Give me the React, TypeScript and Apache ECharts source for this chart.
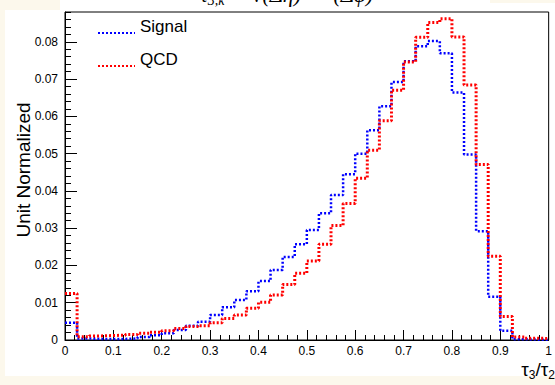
import React, { useEffect, useRef } from "react";
import * as echarts from "echarts";

// Histogram: 40 bins of width 0.025 from 0 to 1
const BIN_WIDTH = 0.025;
const signalValues = [
  0.0046, 0.0004, 0.0003, 0.0003, 0.0003, 0.0004, 0.0008, 0.0013, 0.0018, 0.0027,
  0.0038, 0.0049, 0.0067, 0.0088, 0.0107, 0.0131, 0.0158, 0.0188, 0.0223, 0.0257,
  0.0295, 0.034, 0.0389, 0.0445, 0.05, 0.0563, 0.0627, 0.0692, 0.0748, 0.0788,
  0.0802, 0.0769, 0.0664, 0.0498, 0.0292, 0.0116, 0.0025, 0.0002, 0.0001, 0.0001,
];
const qcdValues = [
  0.0125, 0.0009, 0.0011, 0.0012, 0.0013, 0.0015, 0.0018, 0.0021, 0.0025, 0.0031,
  0.0036, 0.0038, 0.0046, 0.0058, 0.0067, 0.0085, 0.0101, 0.0121, 0.0149, 0.0179,
  0.0212, 0.0257, 0.0307, 0.0366, 0.0434, 0.0509, 0.0588, 0.067, 0.0746, 0.0812,
  0.0852, 0.0862, 0.0813, 0.0684, 0.0471, 0.0225, 0.0063, 0.0008, 0.0005, 0.0004,
];
const seriesNames = ["Signal", "QCD"];
const X_MIN = 0;
const X_MAX = 1;
const Y_MIN = 0;
const Y_MAX = 0.088;

const FONT = "'Liberation Sans', Arial, Helvetica, sans-serif";

function stepData(values: number[]) {
  const pts: [number, number][] = values.map((v, i) => [+(i * BIN_WIDTH).toFixed(4), v]);
  pts.push([+(values.length * BIN_WIDTH).toFixed(4), values[values.length - 1]]);
  return pts;
}

export default function App() {
  const ref = useRef<HTMLDivElement>(null);
  useEffect(() => {
    if (!ref.current) return;
    const chart = echarts.init(ref.current, undefined, { renderer: "svg" });
    const fmt = (v: number) => String(+v.toFixed(3));
    const legendCommon = {
      left: 97,
      padding: 0,
      itemWidth: 37,
      itemHeight: 14,
      itemStyle: { opacity: 0 },
      formatter: "{a|{name}}",
      textStyle: {
        rich: {
          a: {
            fontSize: 17,
            fontFamily: FONT,
            color: "#000",
            lineHeight: 17,
            padding: [0, 0, 14, 0],
          },
        },
      },
    };
    chart.setOption({
      animation: false,
      backgroundColor: "#fcf8ec",
      grid: {
        left: 65,
        right: 1,
        top: 12,
        bottom: 45,
        show: true,
        borderColor: "#000",
        borderWidth: 1,
        backgroundColor: "transparent",
      },
      graphic: [
        { type: "rect", z: -100, shape: { x: 5, y: 10, width: 550, height: 366 }, style: { fill: "#fff" } },
        { type: "rect", z: -100, shape: { x: 60, y: 0, width: 430, height: 12 }, style: { fill: "#fff" } },
        { type: "rect", z: -100, shape: { x: 490, y: 3, width: 65, height: 9 }, style: { fill: "#fff" } },
        {
          type: "text",
          x: 200,
          y: 7,
          style: {
            text: "{m|τ}{s|3,k}{m| = √}{m|(Δη)² + (Δφ)²}",
            verticalAlign: "bottom",
            fill: "#000",
            rich: {
              m: { fontSize: 22, fontFamily: "'Liberation Serif', serif", fontStyle: "italic", lineHeight: 26, fill: "#000" },
              s: { fontSize: 14, fontFamily: "'Liberation Serif', serif", fontStyle: "italic", lineHeight: 26, verticalAlign: "bottom", fill: "#000" },
            },
          },
        },
        {
          type: "text",
          x: 555,
          y: 357,
          style: {
            text: "{m|τ}{s|3}{m|/τ}{s|2}",
            align: "right",
            verticalAlign: "top",
            fill: "#000",
            rich: {
              m: { fontSize: 19, fontFamily: FONT, lineHeight: 24, fill: "#000" },
              s: { fontSize: 12, fontFamily: FONT, lineHeight: 24, verticalAlign: "bottom", fill: "#000" },
            },
          },
        },
      ],
      legend: [
        { ...legendCommon, data: [seriesNames[0]], top: 17.5 },
        { ...legendCommon, data: [seriesNames[1]], top: 50.5 },
      ],
      xAxis: [
        {
          type: "value",
          min: X_MIN,
          max: X_MAX,
          interval: 0.1,
          position: "bottom",
          axisLine: { show: true, onZero: false, lineStyle: { color: "#000", width: 1 } },
          axisTick: { show: true, inside: true, length: 10, lineStyle: { color: "#000" } },
          axisLabel: { margin: 5, fontSize: 12, fontFamily: FONT, color: "#000", formatter: fmt },
          splitLine: { show: false },
        },
        {
          type: "value",
          min: X_MIN,
          max: X_MAX,
          interval: 0.02,
          position: "bottom",
          axisLine: { show: false, onZero: false },
          axisTick: { show: true, inside: true, length: 5, lineStyle: { color: "#000" } },
          axisLabel: { show: false },
          splitLine: { show: false },
        },
      ],
      yAxis: [
        {
          type: "value",
          min: Y_MIN,
          max: Y_MAX,
          interval: 0.01,
          position: "left",
          axisLine: { show: true, onZero: false, lineStyle: { color: "#000", width: 1 } },
          axisTick: { show: true, inside: true, length: 12, lineStyle: { color: "#000" } },
          axisLabel: { margin: 7, fontSize: 12, fontFamily: FONT, color: "#000", formatter: fmt, showMaxLabel: false },
          splitLine: { show: false },
          name: "Unit Normalized",
          nameLocation: "middle",
          nameGap: 32,
          nameMoveOverlap: false,
          nameTextStyle: { fontSize: 19, fontFamily: FONT, color: "#000", padding: [0, 0, 0, 12] },
        },
        {
          type: "value",
          min: Y_MIN,
          max: Y_MAX,
          interval: 0.002,
          position: "left",
          axisLine: { show: false, onZero: false },
          axisTick: { show: true, inside: true, length: 6, lineStyle: { color: "#000" } },
          axisLabel: { show: false },
          splitLine: { show: false },
        },
      ],
      series: [
        {
          name: seriesNames[0],
          type: "line",
          step: "end",
          symbol: "none",
          xAxisIndex: 0,
          yAxisIndex: 0,
          data: stepData(signalValues),
          lineStyle: { color: "#0000ff", width: 2.5, type: [2, 2], cap: "butt" },
          itemStyle: { color: "#0000ff" },
        },
        {
          name: seriesNames[1],
          type: "line",
          step: "end",
          symbol: "none",
          xAxisIndex: 0,
          yAxisIndex: 0,
          data: stepData(qcdValues),
          lineStyle: { color: "#ff0000", width: 3, type: [2, 2], cap: "butt" },
          itemStyle: { color: "#ff0000" },
        },
      ],
    });
    return () => chart.dispose();
  }, []);
  return (
    <div
      ref={ref}
      style={{ position: "fixed", left: 0, top: 0, width: 555, height: 385 }}
    />
  );
}
